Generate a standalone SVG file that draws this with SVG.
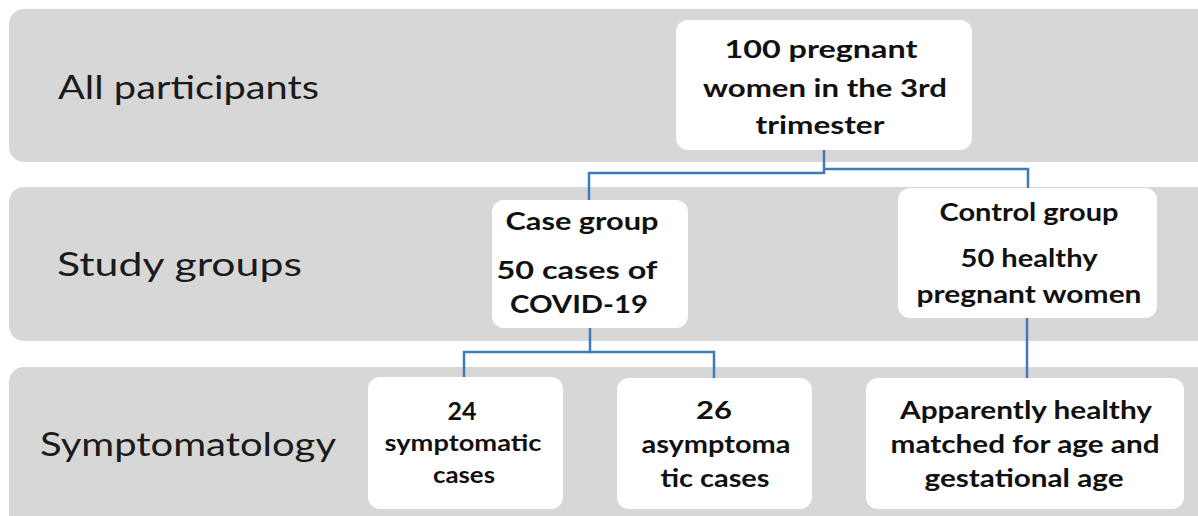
<svg xmlns="http://www.w3.org/2000/svg" width="1198" height="516" viewBox="0 0 1198 516">
<style>
.band{fill:#d7d7d7}
.box{fill:#ffffff}
.lab{font-family:Lato,"Open Sans","Liberation Sans",sans-serif;font-size:33px;fill:#1a1a1a}
.t{font-family:Lato,"Open Sans","Liberation Sans",sans-serif;font-weight:bold;font-size:25px;fill:#111;text-anchor:middle}
.s{font-family:Lato,"Open Sans","Liberation Sans",sans-serif;font-weight:bold;font-size:23px;fill:#111;text-anchor:middle}
.c{fill:none;stroke:#3f7bb6;stroke-width:2.5}
</style>
<rect width="1198" height="516" fill="#ffffff"/>
<g id="bands">
<rect class="band" x="9" y="9" width="1204" height="153" rx="15"/>
<rect class="band" x="9" y="187" width="1204" height="154" rx="15"/>
<rect class="band" x="9" y="367" width="1204" height="165" rx="15"/>
<text class="lab" x="58" y="99" textLength="261" lengthAdjust="spacingAndGlyphs">All participants</text>
<text class="lab" x="57" y="276" textLength="245" lengthAdjust="spacingAndGlyphs">Study groups</text>
<text class="lab" x="40" y="456" textLength="296" lengthAdjust="spacingAndGlyphs">Symptomatology</text>
</g>
<g id="connectors">
<path class="c" d="M824,150 V173 H589 V201"/>
<path class="c" d="M824,169 H1028 V189"/>
<path class="c" d="M590,328 V352 H464 V378"/>
<path class="c" d="M590,352 H714 V378"/>
<path class="c" d="M1027,317 V378"/>
</g>
<g id="n-all">
<rect class="box" x="676" y="20" width="296" height="130" rx="12"/>
<text class="t" x="821" y="58" textLength="193" lengthAdjust="spacingAndGlyphs">100 pregnant</text>
<text class="t" x="825" y="97" textLength="244" lengthAdjust="spacingAndGlyphs">women in the 3rd</text>
<text class="t" x="820" y="134" textLength="129" lengthAdjust="spacingAndGlyphs">trimester</text>
</g>
<g id="n-case">
<rect class="box" x="492" y="200" width="196" height="128" rx="12"/>
<text class="t" x="582" y="230" textLength="153" lengthAdjust="spacingAndGlyphs">Case group</text>
<text class="t" x="577" y="279" textLength="161" lengthAdjust="spacingAndGlyphs">50 cases of</text>
<text class="t" x="579" y="313" textLength="138" lengthAdjust="spacingAndGlyphs">COVID-19</text>
</g>
<g id="n-control">
<rect class="box" x="898" y="188" width="259" height="130" rx="12"/>
<text class="t" x="1029" y="221" textLength="179" lengthAdjust="spacingAndGlyphs">Control group</text>
<text class="t" x="1029" y="267" textLength="137" lengthAdjust="spacingAndGlyphs">50 healthy</text>
<text class="t" x="1029" y="303" textLength="225" lengthAdjust="spacingAndGlyphs">pregnant women</text>
</g>
<g id="n-symp">
<rect class="box" x="368" y="377" width="195" height="132" rx="12"/>
<text class="t" x="462" y="420" textLength="29" lengthAdjust="spacingAndGlyphs">24</text>
<text class="s" x="463" y="451" textLength="157" lengthAdjust="spacingAndGlyphs">symptomatic</text>
<text class="s" x="464" y="483" textLength="62" lengthAdjust="spacingAndGlyphs">cases</text>
</g>
<g id="n-asymp">
<rect class="box" x="617" y="378" width="195" height="131" rx="12"/>
<text class="t" x="714" y="419" textLength="36" lengthAdjust="spacingAndGlyphs">26</text>
<text class="t" x="716" y="453" textLength="149" lengthAdjust="spacingAndGlyphs">asymptoma</text>
<text class="t" x="715" y="487" textLength="109" lengthAdjust="spacingAndGlyphs">tic cases</text>
</g>
<g id="n-healthy">
<rect class="box" x="866" y="378" width="318" height="131" rx="12"/>
<text class="t" x="1026" y="419" textLength="252" lengthAdjust="spacingAndGlyphs">Apparently healthy</text>
<text class="t" x="1025" y="453" textLength="269" lengthAdjust="spacingAndGlyphs">matched for age and</text>
<text class="t" x="1024" y="487" textLength="199" lengthAdjust="spacingAndGlyphs">gestational age</text>
</g>
</svg>
